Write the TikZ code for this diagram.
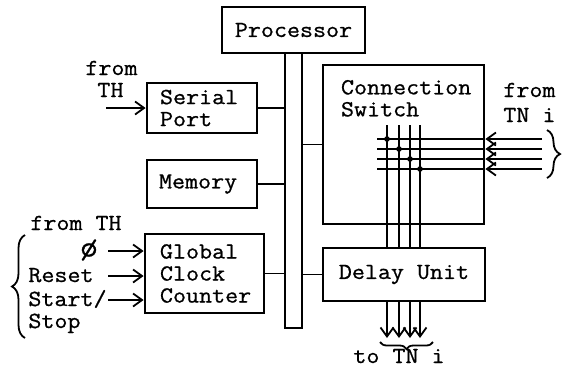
\documentclass[tikz,border=0pt]{standalone}
\usepackage{fontspec}
\newfontfamily\tw{Latin Modern Mono}[FakeStretch=1.1,FakeBold=0.8]
\usetikzlibrary{calc,arrows.meta,decorations.pathreplacing}
\begin{document}
\begin{tikzpicture}[x=0.5pt,y=-0.5pt,
  every node/.style={font=\tw\fontsize{11.5}{11}\selectfont, inner sep=0pt},
  box/.style={draw, line width=1.4pt, align=left},
  wire/.style={line width=0.9pt},
  arr/.style={wire, -{Straight Barb[length=4.5pt,width=6.5pt]}},
  brc/.style={wire, decorate, decoration={brace, amplitude=#1}},
  dot/.style={circle, fill, minimum size=2.8pt}]
\useasboundingbox (0,0) rectangle (569,366);

% blocks
\node[box, minimum width=71.5pt, minimum height=23pt] (proc) at (293.5,30) {Processor};
\node[draw, line width=0.8pt, minimum width=8.5pt, minimum height=137.5pt] (bus) at (293.5,190.5) {};
\node[box, minimum height=25pt, text width=42pt, inner xsep=6.5pt] (sp) at (202,108) {Serial\\Port};
\node[box, minimum height=24pt, text width=43pt, inner xsep=6pt] (mem) at (202,184) {Memory};
\node[box, minimum height=39.5pt, text width=44.5pt, inner xsep=7.5pt] (gcc) at (204.5,273.5) {Global\\Clock\\Counter};
\node[box, minimum width=80.5pt, minimum height=79.5pt] (sw) at (403.5,144.5) {};
\node[anchor=north west, align=left] (swl) at ($(sw.north west)+(19,16)$) {Connection\\Switch};
\node[box, minimum width=81pt, minimum height=26.5pt] (du) at (404,274.5) {Delay Unit};

% links to the bus
\draw[wire] (sp.east) -- (sp.east -| bus.west);
\draw[wire] (mem.east) -- (mem.east -| bus.west);
\draw[wire] (gcc.east) -- (gcc.east -| bus.west);
\draw[wire] (sw.west) -- (sw.west -| bus.east);
\draw[wire] (du.west) -- (du.west -| bus.east);

% crossbar inside the switch
\foreach \i/\x in {1/387,2/399,3/410,4/420}{
  \coordinate (v\i) at (\x,125);
  \coordinate (o\i) at (\x,338);
  \draw[wire] (v\i) -- (v\i |- du.north);
  \draw[arr] (o\i |- du.south) -- (o\i);
}
\foreach \j/\y in {1/139,2/149,3/159,4/169}{
  \coordinate (h\j) at (377,\y);
  \coordinate (in\j) at (542,\y);
  \draw[arr] (in\j) -- (in\j -| sw.east);
  \draw[wire] (in\j -| sw.east) -- (h\j);
  \node[dot] (d\j) at (v\j |- h\j) {};
}

% inputs on the left
\node[anchor=base west] (f1) at (85,75) {from};
\node[anchor=base west] (t1) at (97,97) {TH};
\coordinate (a0) at (106,108);
\draw[arr] (a0) -- (a0 -| sp.west);

\node[anchor=base west] (f2) at (30,230) {from TH};
\node[font=\tw\fontsize{15}{15}\selectfont] (phi) at (89,250) {ø};
\node[anchor=base west] (rst) at (28,282) {Reset};
\node[anchor=base west] (sta) at (28,306) {Start/};
\node[anchor=base west] (sto) at (28,328) {Stop};
\foreach \k/\y in {1/251,2/276,3/300}{
  \coordinate (a\k) at (108,\y);
  \draw[arr] (a\k) -- (a\k -| gcc.west);
}
\coordinate (lb1) at (25,338);
\coordinate (lb2) at (25,235);
\draw[brc=6.5pt] (lb1) -- (lb2);

% external terminal nodes
\node[anchor=base west] (f3) at (503,97) {from};
\node[anchor=base west] (t3) at (503,122) {TN i};
\coordinate (rb1) at (547,130);
\coordinate (rb2) at (547,178);
\draw[brc=6.5pt] (rb1) -- (rb2);

\coordinate (bb1) at (433,342);
\coordinate (bb2) at (380,342);
\draw[brc=3.5pt] (bb1) -- (bb2);
\node[anchor=base west] (t4) at (353,363) {to TN i};
\end{tikzpicture}
\end{document}
